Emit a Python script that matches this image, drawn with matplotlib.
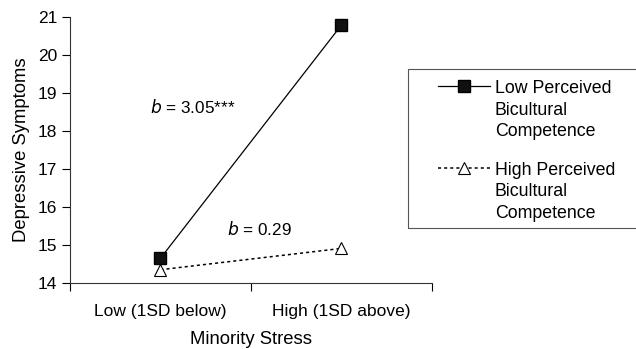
import matplotlib.pyplot as plt
from matplotlib.patches import Rectangle

plt.rcParams['font.family'] = ['Liberation Sans', 'DejaVu Sans']
plt.rcParams['font.size'] = 12.5

# data
categories = ['Low (1SD below)', 'High (1SD above)']
low_bicultural = [14.65, 20.78]
high_bicultural = [14.35, 14.91]
labels = ['Low Perceived\nBicultural\nCompetence', 'High Perceived\nBicultural\nCompetence']

W, H = 636, 349
fig = plt.figure(figsize=(W / 100, H / 100), dpi=100)
ax = fig.add_axes([0.110, 0.189, 0.569, 0.763])

x = [0, 1]
ax.plot(x, low_bicultural, color='black', linestyle='-', linewidth=0.9,
        marker='s', markersize=8, markerfacecolor='#111111', markeredgecolor='black',
        label=labels[0])
ax.plot(x, high_bicultural, color='black', linestyle=(0, (2, 2)), linewidth=1.1,
        marker='^', markersize=9, markerfacecolor='white', markeredgecolor='black',
        markeredgewidth=0.8, label=labels[1])

ax.set_xlim(-0.5, 1.5)
ax.set_ylim(14, 21)
ax.set_yticks(range(14, 22))
ax.set_xticks(x)
ax.set_xticklabels(categories)
ax.set_xticks([-0.5, 0.5, 1.5], minor=True)
ax.tick_params(axis='x', which='major', length=0, pad=15, labelsize=12.5)
ax.tick_params(axis='x', which='minor', length=6, direction='out', width=0.8)
ax.tick_params(axis='y', length=6, direction='out', width=0.8, pad=3, labelsize=12.5)

for s in ['top', 'right']:
    ax.spines[s].set_visible(False)
for s in ['left', 'bottom']:
    ax.spines[s].set_linewidth(0.8)
    ax.spines[s].set_color('#333333')

ax.set_xlabel('Minority Stress', labelpad=9, fontsize=13.3)
ax.set_ylabel('Depressive Symptoms', labelpad=6, fontsize=13.3)

ax.text(-0.058, 18.47, r'$b$ = 3.05***', fontsize=12.3, va='baseline')
ax.text(0.367, 15.26, r'$b$ = 0.29', fontsize=12.3, va='baseline')

# legend frame drawn separately so it can run off the right edge
fig.patches.append(Rectangle((408 / W, 1 - 228 / H), 240 / W, 159 / H,
                             transform=fig.transFigure, fill=False,
                             edgecolor='#555555', linewidth=0.8))
leg = fig.legend(loc='upper left', bbox_to_anchor=(438 / W, 1 - 80 / H),
                 frameon=False, handlelength=2.9, handletextpad=0.3,
                 labelspacing=1.2, borderpad=0, borderaxespad=0, fontsize=12.8)
for t in leg.get_texts():
    t.set_linespacing(1.36)
# put the handle next to the first line of each label
for col in leg._legend_handle_box.get_children():
    for hp in col.get_children():
        hp.align = 'top'

fig.savefig('out.png', dpi=100)
